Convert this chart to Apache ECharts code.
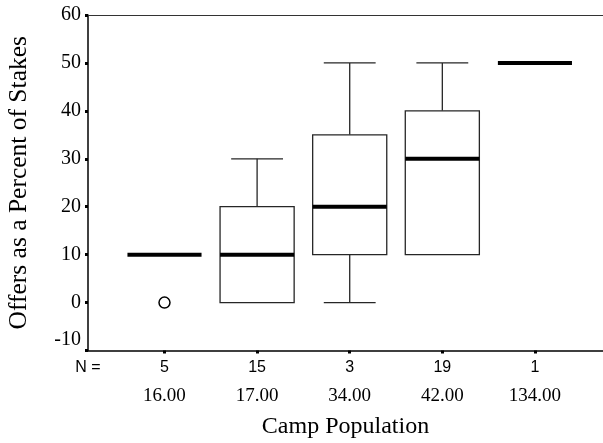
<!DOCTYPE html>
<html>
<head>
<meta charset="utf-8">
<script src="https://cdn.jsdelivr.net/npm/echarts@6/dist/echarts.min.js"></script>
<style>html,body{margin:0;padding:0;background:#fff;}#c{width:603px;height:443px;}</style>
</head>
<body>
<div id="c"></div>
<script>
// ---- data ----
var nLabels = ['5', '15', '3', '19', '1'];
var popLabels = ['16.00', '17.00', '34.00', '42.00', '134.00'];
var boxMin    = [10, 0, 0, 10, 50];
var boxQ1     = [10, 0, 10, 10, 50];
var boxMedian = [10, 10, 20, 30, 50];
var boxQ3     = [10, 20, 35, 40, 50];
var boxMax    = [10, 30, 50, 50, 50];
var outliers  = [[0, 0]];   // [category index, value]
var yTicks    = { min: -10, max: 60, interval: 10 };

var serif = "'Liberation Serif','Times New Roman',serif";
var sans = "'Liberation Sans',Arial,sans-serif";
var X_MIN = -0.826, X_MAX = 4.735;

var boxData = nLabels.map(function (_, i) {
  return [i, boxMin[i], boxQ1[i], boxMedian[i], boxQ3[i], boxMax[i]];
});

var chart = echarts.init(document.getElementById('c'), null, { renderer: 'canvas' });
var stroke = '#262626';

function renderBox(params, api) {
  var x = api.value(0);
  var mn = api.value(1), q1 = api.value(2), md = api.value(3), q3 = api.value(4), mx = api.value(5);
  var band = api.size([1, 0])[0];
  var bw = band * 0.8, cw = band * 0.56;
  var c = function (v) { return api.coord([x, v]); };
  var kids = [];
  var lw = 1.3;
  if (mx > q3) {
    var a = c(q3), b = c(mx);
    kids.push({ type: 'line', shape: { x1: a[0], y1: a[1], x2: b[0], y2: b[1] }, style: { stroke: stroke, lineWidth: lw } });
    kids.push({ type: 'line', shape: { x1: b[0] - cw / 2, y1: b[1], x2: b[0] + cw / 2, y2: b[1] }, style: { stroke: stroke, lineWidth: lw } });
  }
  if (mn < q1) {
    var a2 = c(q1), b2 = c(mn);
    kids.push({ type: 'line', shape: { x1: a2[0], y1: a2[1], x2: b2[0], y2: b2[1] }, style: { stroke: stroke, lineWidth: lw } });
    kids.push({ type: 'line', shape: { x1: b2[0] - cw / 2, y1: b2[1], x2: b2[0] + cw / 2, y2: b2[1] }, style: { stroke: stroke, lineWidth: lw } });
  }
  if (q3 > q1) {
    var t = c(q3), bt = c(q1);
    kids.push({ type: 'rect', shape: { x: t[0] - bw / 2, y: t[1], width: bw, height: bt[1] - t[1] }, style: { fill: '#fff', stroke: stroke, lineWidth: lw } });
  }
  var m = c(md);
  kids.push({ type: 'line', shape: { x1: m[0] - bw / 2, y1: m[1], x2: m[0] + bw / 2, y2: m[1] }, style: { stroke: '#000', lineWidth: 4 } });
  return { type: 'group', children: kids };
}

var option = {
  animation: false,
  backgroundColor: '#fff',
  grid: { left: 88, right: 0, top: 15, bottom: 92.5, containLabel: false, outerBoundsMode: 'none' },
  xAxis: [{
    type: 'value',
    min: X_MIN, max: X_MAX,
    position: 'bottom',
    name: 'Camp Population',
    nameLocation: 'middle',
    nameGap: 64,
    nameTextStyle: { fontFamily: serif, fontSize: 24, color: '#000' },
    axisLine: { show: true, onZero: false, lineStyle: { color: '#000', width: 1.5 } },
    axisTick: { show: true, customValues: [0, 1, 2, 3, 4], length: 3, inside: false, lineStyle: { color: '#000', width: 3 } },
    splitLine: { show: false },
    axisLabel: {
      show: true,
      customValues: [X_MIN, 0, 1, 2, 3, 4],
      margin: 6,
      formatter: function (v) {
        if (v < -0.5) return '{n|N =}';
        var i = Math.round(v);
        return '{n|' + nLabels[i] + '}\n{p|' + popLabels[i] + '}';
      },
      rich: {
        n: { fontFamily: sans, fontSize: 16, lineHeight: 22, color: '#000' },
        p: { fontFamily: serif, fontSize: 19, lineHeight: 36, color: '#000' }
      }
    }
  }, {
    type: 'value',
    min: X_MIN, max: X_MAX,
    position: 'top',
    axisLine: { show: true, onZero: false, lineStyle: { color: '#333', width: 1.2 } },
    axisTick: { show: false },
    axisLabel: { show: false },
    splitLine: { show: false }
  }],
  yAxis: {
    type: 'value',
    min: yTicks.min, max: yTicks.max, interval: yTicks.interval,
    name: 'Offers as a Percent of Stakes',
    nameLocation: 'middle',
    nameGap: 56,
    nameTextStyle: { fontFamily: serif, fontSize: 25.5, color: '#000' },
    axisLine: { show: true, onZero: false, lineStyle: { color: '#000', width: 1.5 } },
    axisTick: { show: true, length: 3, lineStyle: { color: '#000', width: 3 } },
    splitLine: { show: false },
    axisLabel: {
      margin: 7,
      formatter: function (v) {
        return v === yTicks.min ? '{lo|' + v + '}' : '{t|' + v + '}';
      },
      rich: {
        t: { fontFamily: serif, fontSize: 20, color: '#000' },
        lo: { fontFamily: serif, fontSize: 20, color: '#000', padding: [0, 0, 22, 0] }
      }
    }
  },
  series: [{
    type: 'custom',
    xAxisIndex: 0,
    renderItem: renderBox,
    encode: { x: 0, y: [1, 2, 3, 4, 5] },
    data: boxData,
    clip: false,
    z: 2
  }, {
    type: 'scatter',
    xAxisIndex: 0,
    data: outliers,
    symbol: 'circle',
    symbolSize: 11,
    itemStyle: { color: '#fff', borderColor: '#000', borderWidth: 1.5, opacity: 1 },
    z: 3
  }]
};
chart.setOption(option);
</script>
</body>
</html>
